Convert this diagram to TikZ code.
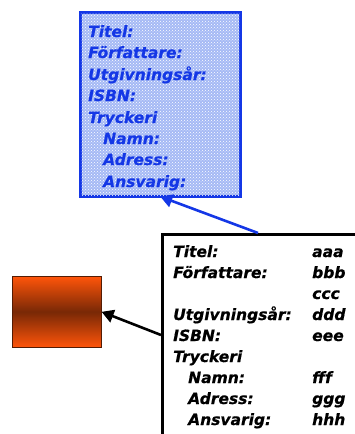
\documentclass[tikz,border=0pt]{standalone}
\usepackage{fontspec}
\setmainfont{DejaVu Sans}[BoldItalicFeatures={FakeBold=0.6}]
\usepackage{tikz}
\usetikzlibrary{arrows.meta}
\usetikzlibrary{patterns}
\definecolor{blaa}{RGB}{20,55,230}
\definecolor{ljusblaa}{RGB}{165,185,245}
\definecolor{orange1}{RGB}{255,85,10}
\definecolor{brun}{RGB}{120,40,6}
\tikzset{
  rad/.style={anchor=base west, inner sep=0pt, font=\fontsize{15.5}{18}\selectfont\bfseries\itshape},
  blarad/.style={rad, text=blaa},
}

\begin{document}
\begin{tikzpicture}[x=1pt,y=-1pt]
  \useasboundingbox (0,0) rectangle (354,434);
  % mallen
  \node[draw=blaa, line width=1.6pt, fill=ljusblaa, minimum width=159pt, minimum height=183pt, anchor=north west, inner sep=0pt] (mall) at (80,12) {};
  \path[pattern=crosshatch dots, pattern color=white] (mall.north west) rectangle (mall.south east);
  \draw[blaa, line width=2pt] (mall.north west) rectangle (mall.south east);
  \node[blarad] (m1) at (88,37) {Titel:};
  \node[blarad] (m2) at (88,58) {Författare:};
  \node[blarad] (m3) at (88,80) {Utgivningsår:};
  \node[blarad] (m4) at (88,101) {ISBN:};
  \node[blarad] (m5) at (88,123) {Tryckeri};
  \node[blarad] (m6) at (103,144) {Namn:};
  \node[blarad] (m7) at (103,165) {Adress:};
  \node[blarad] (m8) at (103,187) {Ansvarig:};

  % posten
  \node[draw, line width=2.6pt, minimum width=240pt, minimum height=240pt, anchor=north west, inner sep=0pt] (post) at (161,233) {};
  \node[rad] (p1) at (173,257) {Titel:};
  \node[rad] (p2) at (173,278) {Författare:};
  \node[rad] (p4) at (173,320) {Utgivningsår:};
  \node[rad] (p5) at (173,341) {ISBN:};
  \node[rad] (p6) at (173,362) {Tryckeri};
  \node[rad] (p7) at (188,383) {Namn:};
  \node[rad] (p8) at (188,404) {Adress:};
  \node[rad] (p9) at (188,425) {Ansvarig:};
  \node[rad] (v1) at (312,257) {aaa};
  \node[rad] (v2) at (312,278) {bbb};
  \node[rad] (v3) at (312,299) {ccc};
  \node[rad] (v4) at (312,320) {ddd};
  \node[rad] (v5) at (312,341) {eee};
  \node[rad] (v7) at (312,383) {fff};
  \node[rad] (v8) at (312,404) {ggg};
  \node[rad] (v9) at (312,425) {hhh};

  % objektet
  \node[draw=brun!70!black, line width=0.6pt, minimum width=89pt, minimum height=71pt, anchor=north west, inner sep=0pt,
        top color=orange1, bottom color=orange1, middle color=brun, shading angle=0] (objekt) at (12,276) {};

  \coordinate (ptopp) at (258,233);
  \coordinate (pvanster) at (161,335);
  \draw[blaa, line width=2.6pt, -{Triangle[length=12pt,width=13pt]}] (ptopp) -- (mall.south);
  \draw[line width=2.6pt, -{Triangle[length=12pt,width=13pt]}] (pvanster) -- (objekt.east);
\end{tikzpicture}
\end{document}
